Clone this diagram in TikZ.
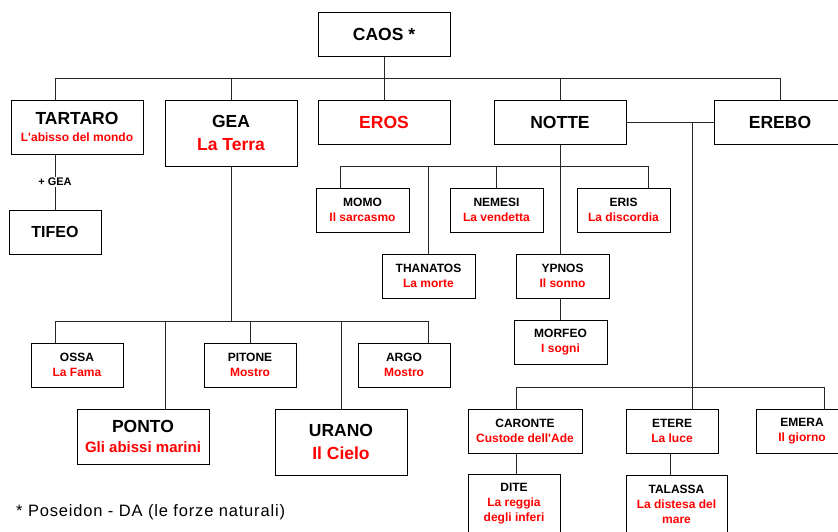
\documentclass[tikz,border=0pt]{standalone}
\usepackage{fontspec}
\setmainfont{Liberation Sans}
\newfontfamily\notefont[LetterSpace=5]{Liberation Sans}
\newcommand\BigT[1]{{\fontsize{17.5}{20}\selectfont #1}}
\newcommand\TifT[1]{{\fontsize{16}{20}\selectfont #1}}
\newcommand\MidT[1]{{\fontsize{15}{18}\selectfont #1}}
\newcommand\Rd[1]{{\color{red}#1}}
\begin{document}
\begin{tikzpicture}[x=1pt,y=-1pt,
  box/.style={draw=black, line width=1pt, fill=white, align=center, inner sep=0pt,
              font=\bfseries\fontsize{12}{#1}\selectfont},
  box/.default=15,
  sz/.style 2 args={minimum width=#1pt, minimum height=#2pt},
  conn/.style={draw=black!85, line width=1pt},
  lbl/.style={fill=white, inner sep=1.5pt, font=\bfseries\fontsize{11}{13}\selectfont},
  note/.style={anchor=west, inner sep=0pt, font=\notefont\fontsize{16.5}{18}\selectfont}]
\clip (0,0) rectangle (838,531);
\fill[white] (0,0) rectangle (838,531);

% ---------- boxes ----------
\node[box, sz={132}{44}] (caos) at (384,34) {\BigT{CAOS *}};
\node[box=17, sz={132}{54}] (tartaro) at (77,127) {\BigT{TARTARO}\\\Rd{L\textquotesingle abisso del mondo}};
\node[box=23, sz={132}{66}] (gea) at (231,133) {\BigT{GEA}\\\BigT{\Rd{La Terra}}};
\node[box, sz={132}{44}] (eros) at (384,122) {\BigT{\Rd{EROS}}};
\node[box, sz={132}{44}] (notte) at (560,122) {\BigT{NOTTE}};
\node[box, sz={132}{44}] (erebo) at (780,122) {\BigT{EREBO}};
\node[box, sz={92}{44}] (tifeo) at (55,232) {\TifT{TIFEO}};

\node[box, sz={93}{44}] (momo) at (362.5,210) {MOMO\\\Rd{Il sarcasmo}};
\node[box, sz={93}{44}] (nemesi) at (496.5,210) {NEMESI\\\Rd{La vendetta}};
\node[box, sz={93}{44}] (eris) at (623.5,210) {ERIS\\\Rd{La discordia}};
\node[box, sz={93}{44}] (thanatos) at (428.5,276) {THANATOS\\\Rd{La morte}};
\node[box, sz={93}{44}] (ypnos) at (562.5,276) {YPNOS\\\Rd{Il sonno}};
\node[box, sz={93}{44}] (morfeo) at (560.5,342) {MORFEO\\\Rd{I sogni}};

\node[box, sz={92}{44}] (ossa) at (77,365) {OSSA\\\Rd{La Fama}};
\node[box, sz={92}{44}] (pitone) at (250,365) {PITONE\\\Rd{Mostro}};
\node[box, sz={92}{44}] (argo) at (404,365) {ARGO\\\Rd{Mostro}};
\node[box=20, sz={132}{55}] (ponto) at (143,436.5) {\BigT{PONTO}\\\MidT{\Rd{Gli abissi marini}}};
\node[box=23, sz={132}{66}] (urano) at (341,442) {\BigT{URANO}\\\BigT{\Rd{Il Cielo}}};

\node[box, sz={114}{44}] (caronte) at (525,431) {CARONTE\\\Rd{Custode dell\textquotesingle Ade}};
\node[box, sz={92}{44}] (etere) at (672,431) {ETERE\\\Rd{La luce}};
\node[box, sz={92}{44}] (emera) at (802,431) {EMERA\\\Rd{Il giorno}};
\node[box, sz={92}{58}] (dite) at (514,503.5) {DITE\\\Rd{La reggia}\\\Rd{degli inferi}};
\node[box, sz={101}{58}] (talassa) at (676.5,504) {TALASSA\\\Rd{La distesa del}\\\Rd{mare}};

\node[note] (nota) at (16,512) {* Poseidon - DA (le forze naturali)};

% ---------- junction points ----------
\coordinate (bt1) at (55,78);
\coordinate (bt2) at (erebo.north |- bt1);
\coordinate (bn1) at (340,166);
\coordinate (bn2) at (648,166);
\coordinate (bg1) at (55,321);
\coordinate (bg2) at (428,321);
\coordinate (bg3) at (165,321);
\coordinate (ne) at (692,122);
\coordinate (bc1) at (516,387);
\coordinate (bc2) at (824,387);
\coordinate (et) at (670,453);

% ---------- connectors ----------
\draw[conn] (bt1) -- (bt2);
\draw[conn] (caos) -- (eros);
\draw[conn] (bt1) -- (bt1 |- tartaro.north);
\draw[conn] (gea.north) -- (gea.north |- bt1);
\draw[conn] (notte.north) -- (notte.north |- bt1);
\draw[conn] (erebo.north) -- (bt2);
\draw[conn] (tifeo.north |- tartaro.south) -- node[lbl] (piugea) {+ GEA} (tifeo.north);

\draw[conn] (notte.east) -- (erebo.west);
\draw[conn] (ne) -- (ne |- etere.north);

\draw[conn] (bn1) -- (bn2);
\draw[conn] (notte.south) -- (notte.south |- ypnos.north);
\draw[conn] (bn1) -- (bn1 |- momo.north);
\draw[conn] (nemesi.north) -- (nemesi.north |- bn1);
\draw[conn] (bn2) -- (bn2 |- eris.north);
\draw[conn] (thanatos.north) -- (thanatos.north |- bn1);
\draw[conn] (notte.south |- ypnos.south) -- (notte.south |- morfeo.north);

\draw[conn] (gea.south) -- (gea.south |- bg1);
\draw[conn] (bg1) -- (bg2);
\draw[conn] (bg1) -- (bg1 |- ossa.north);
\draw[conn] (bg3) -- (bg3 |- ponto.north);
\draw[conn] (pitone.north) -- (pitone.north |- bg1);
\draw[conn] (urano.north) -- (urano.north |- bg1);
\draw[conn] (bg2) -- (bg2 |- argo.north);

\draw[conn] (bc1) -- (bc2);
\draw[conn] (bc1) -- (bc1 |- caronte.north);
\draw[conn] (bc2) -- (bc2 |- emera.north);
\draw[conn] (bc1 |- caronte.south) -- (bc1 |- dite.north);
\draw[conn] (et) -- (et |- talassa.north);
\end{tikzpicture}
\end{document}
